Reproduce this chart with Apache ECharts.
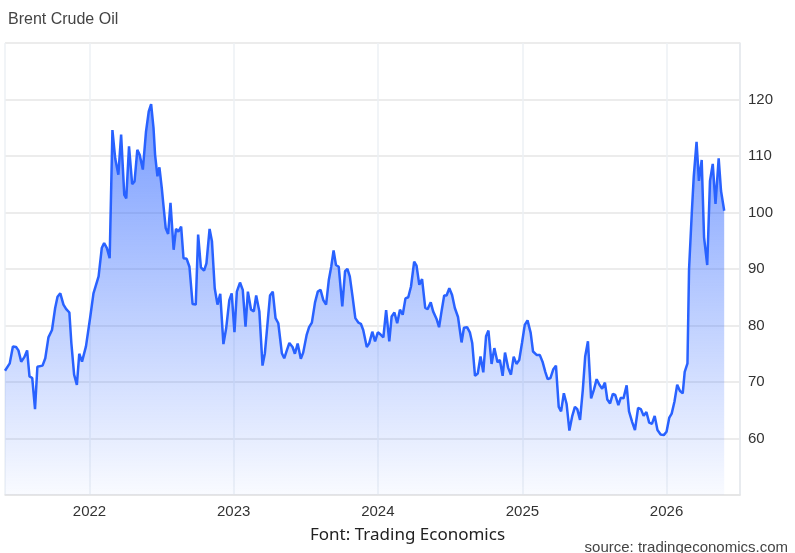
<!DOCTYPE html>
<html>
<head>
<meta charset="utf-8">
<title>Brent Crude Oil</title>
<script src="https://cdn.jsdelivr.net/npm/echarts@6/dist/echarts.min.js"></script>
<style>
  html, body { margin: 0; padding: 0; background: #fff; }
  #main { width: 795px; height: 553px; }
</style>
</head>
<body>
<div id="main"></div>
<script>
// weekly-ish readings
const dates = [
  '2021-06-01','2021-06-13','2021-06-21','2021-06-29','2021-07-05','2021-07-12','2021-07-20','2021-07-27',
  '2021-08-02','2021-08-09','2021-08-16','2021-08-22','2021-09-04','2021-09-11','2021-09-19','2021-09-28',
  '2021-10-06','2021-10-12','2021-10-19','2021-10-27','2021-11-03','2021-11-11','2021-11-16','2021-11-23',
  '2021-11-30','2021-12-06','2021-12-13','2021-12-23','2022-01-03','2022-01-11','2022-01-24','2022-02-01',
  '2022-02-07','2022-02-14','2022-02-21','2022-02-28','2022-03-07','2022-03-15','2022-03-22','2022-03-30',
  '2022-04-04','2022-04-11','2022-04-19','2022-04-25','2022-05-02','2022-05-08','2022-05-16','2022-05-24',
  '2022-05-31','2022-06-06','2022-06-12','2022-06-16','2022-06-22','2022-06-27','2022-07-03','2022-07-07',
  '2022-07-13','2022-07-19','2022-07-25','2022-08-02','2022-08-08','2022-08-14','2022-08-21','2022-08-27',
  '2022-09-04','2022-09-11','2022-09-19','2022-09-27','2022-10-03','2022-10-10','2022-10-18','2022-10-24',
  '2022-11-01','2022-11-07','2022-11-14','2022-11-21','2022-11-28','2022-12-06','2022-12-13','2022-12-21',
  '2022-12-27','2023-01-03','2023-01-09','2023-01-17','2023-01-24','2023-01-31','2023-02-06','2023-02-14',
  '2023-02-21','2023-02-27','2023-03-07','2023-03-15','2023-03-21','2023-04-03','2023-04-10','2023-04-17',
  '2023-04-24','2023-05-03','2023-05-09','2023-05-16','2023-05-22','2023-05-30','2023-06-05','2023-06-12',
  '2023-06-20','2023-06-26','2023-07-05','2023-07-11','2023-07-18','2023-07-26','2023-08-02','2023-08-09',
  '2023-08-16','2023-08-23','2023-08-30','2023-09-05','2023-09-11','2023-09-17','2023-09-24','2023-10-03',
  '2023-10-10','2023-10-16','2023-10-22','2023-10-29','2023-11-05','2023-11-13','2023-11-19','2023-11-25',
  '2023-12-04','2023-12-10','2023-12-18','2023-12-25','2024-01-01','2024-01-08','2024-01-15','2024-01-22',
  '2024-01-30','2024-02-05','2024-02-12','2024-02-19','2024-02-26','2024-03-04','2024-03-11','2024-03-18',
  '2024-03-25','2024-04-02','2024-04-08','2024-04-15','2024-04-22','2024-04-30','2024-05-06','2024-05-14',
  '2024-05-20','2024-05-29','2024-06-04','2024-06-11','2024-06-17','2024-06-23','2024-06-30','2024-07-07',
  '2024-07-14','2024-07-22','2024-07-31','2024-08-06','2024-08-14','2024-08-21','2024-08-27','2024-09-03',
  '2024-09-10','2024-09-17','2024-09-24','2024-10-01','2024-10-07','2024-10-15','2024-10-22','2024-10-30',
  '2024-11-05','2024-11-12','2024-11-18','2024-11-26','2024-12-03','2024-12-10','2024-12-17','2024-12-24',
  '2024-12-31','2025-01-07','2025-01-14','2025-01-22','2025-01-28','2025-02-06','2025-02-14','2025-02-21',
  '2025-02-28','2025-03-06','2025-03-13','2025-03-20','2025-03-27','2025-04-03','2025-04-09','2025-04-16',
  '2025-04-23','2025-04-30','2025-05-07','2025-05-14','2025-05-20','2025-05-27','2025-06-03','2025-06-09',
  '2025-06-16','2025-06-24','2025-07-01','2025-07-08','2025-07-15','2025-07-22','2025-07-29','2025-08-04',
  '2025-08-11','2025-08-18','2025-08-24','2025-09-01','2025-09-07','2025-09-14','2025-09-22','2025-09-28',
  '2025-10-06','2025-10-13','2025-10-21','2025-10-28','2025-11-04','2025-11-11','2025-11-18','2025-11-25',
  '2025-12-02','2025-12-09','2025-12-17','2025-12-25','2026-01-01','2026-01-08','2026-01-14','2026-01-21',
  '2026-01-28','2026-02-04','2026-02-11','2026-02-16','2026-02-23','2026-02-27','2026-03-06','2026-03-11',
  '2026-03-18','2026-03-24','2026-03-31','2026-04-06','2026-04-14','2026-04-21','2026-04-28','2026-05-05',
  '2026-05-13','2026-05-19','2026-05-27'
]
const prices = [
  72.0, 73.3, 76.3, 76.2, 75.6, 73.6, 74.4, 75.6,
  71.0, 70.7, 65.2, 72.7, 72.9, 74.2, 77.9, 79.2,
  83.1, 85.1, 85.7, 83.7, 82.9, 82.3, 76.9, 71.3,
  69.5, 75.0, 73.6, 76.3, 81.6, 85.7, 88.7, 93.7,
  94.6, 93.7, 91.9, 114.6, 109.6, 106.7, 113.8, 103.1,
  102.5, 111.7, 105.0, 105.5, 111.1, 110.2, 107.6, 114.3,
  117.9, 119.2, 115.0, 110.2, 106.4, 108.0, 104.3, 101.4,
  97.2, 96.2, 101.7, 93.4, 97.1, 96.6, 97.5, 91.9,
  91.8, 90.4, 83.8, 83.7, 96.1, 90.3, 89.7, 91.0,
  97.1, 94.9, 86.6, 83.7, 85.6, 76.7, 79.5, 84.5,
  85.7, 78.8, 86.0, 87.6, 86.3, 79.8, 86.0, 82.8,
  82.5, 85.3, 82.5, 72.9, 75.1, 85.3, 86.0, 81.3,
  80.4, 75.1, 74.2, 75.7, 76.9, 76.2, 75.0, 76.8,
  74.1, 75.2, 78.4, 79.7, 80.5, 84.1, 86.0, 86.3,
  84.5, 83.7, 88.1, 90.4, 93.3, 90.7, 90.4, 83.4,
  89.6, 90.0, 88.7, 85.1, 81.3, 80.5, 80.3, 79.2,
  76.2, 76.8, 78.9, 77.2, 78.8, 78.4, 77.9, 82.7,
  77.2, 81.6, 82.3, 80.4, 82.8, 81.9, 84.8, 85.0,
  86.9, 91.3, 90.6, 87.2, 88.2, 83.1, 82.9, 84.1,
  82.5, 81.1, 79.7, 82.8, 85.3, 85.3, 86.6, 85.4,
  83.1, 81.5, 77.0, 79.6, 79.7, 78.8, 76.9, 71.1,
  71.5, 74.5, 71.7, 78.1, 79.1, 73.2, 76.0, 73.5,
  73.9, 71.1, 75.2, 72.5, 71.3, 74.5, 73.2, 73.9,
  76.9, 80.1, 80.9, 78.7, 75.4, 74.8, 74.8, 73.6,
  71.8, 70.5, 70.7, 72.2, 72.9, 65.6, 64.8, 68.0,
  66.1, 61.4, 63.9, 65.6, 65.2, 63.3, 68.6, 74.5,
  77.2, 67.1, 68.6, 70.5, 69.5, 68.8, 69.9, 66.9,
  66.2, 67.9, 67.7, 65.9, 67.2, 67.1, 69.4, 64.8,
  62.9, 61.5, 65.4, 65.2, 64.0, 64.7, 62.8, 62.6,
  64.0, 61.5, 60.7, 60.6, 61.2, 63.7, 64.4, 66.5,
  69.5, 68.4, 68.0, 71.8, 73.3, 90.0, 100.0, 106.5,
  112.5, 105.6, 109.3, 95.6, 90.7, 105.6, 108.6, 101.5,
  109.6, 103.8, 100.3
]
const yTicks = [60, 70, 80, 90, 100, 110, 120]

const chart = echarts.init(document.getElementById('main'))
const option = {
  animation: false,
  title: [
    {
      text: 'Brent Crude Oil',
      left: 3, top: 7,
      textStyle: { fontFamily: 'Liberation Sans, Arial', fontSize: 16, fontWeight: 'normal', color: '#444' }
    },
    {
      text: 'Font: Trading Economics',
      left: 305, top: 522,
      textStyle: { fontFamily: 'Noto Sans', fontSize: 17, fontWeight: 'normal', color: '#222' }
    },
    {
      text: 'source: tradingeconomics.com',
      right: 2, top: 535,
      textStyle: { fontFamily: 'Liberation Sans, Arial', fontSize: 15, fontWeight: 'normal', color: '#444' }
    }
  ],
  grid: { left: 5, right: 55, top: 43, bottom: 58 },
  xAxis: {
    type: 'time',
    min: '2021-06-01',
    max: '2026-07-06',
    minInterval: 365 * 86400000,
    splitNumber: 5,
    axisLine: { show: true, lineStyle: { color: '#e3e3e3', width: 1.5 } },
    axisTick: { show: false },
    axisLabel: {
      margin: 9,
      fontFamily: 'Liberation Sans, Arial', fontSize: 15, color: '#333',
      formatter: v => String(new Date(v).getFullYear())
    },
    splitLine: { show: true, lineStyle: { color: '#edf1f5', width: 1.5 } }
  },
  yAxis: {
    type: 'value',
    position: 'right',
    min: 50, max: 130, interval: 10,
    axisLine: { show: true, lineStyle: { color: '#e6e9ec', width: 1.5 } },
    axisTick: { show: false },
    axisLabel: {
      margin: 8,
      fontFamily: 'Liberation Sans, Arial', fontSize: 15, color: '#333',
      formatter: v => yTicks.includes(v) ? String(v) : ''
    },
    splitLine: { show: true, lineStyle: { color: '#e6e6e6', width: 1.5 } }
  },
  series: [
    {
      type: 'line',
      data: dates.map((d, i) => [d, prices[i]]),
      showSymbol: false,
      smooth: false,
      lineStyle: { color: '#2962ff', width: 2.5 },
      areaStyle: {
        color: new echarts.graphic.LinearGradient(0, 0, 0, 1, [
          { offset: 0, color: 'rgba(41,98,255,0.9)' },
          { offset: 1, color: 'rgba(41,98,255,0.04)' }
        ])
      }
    }
  ]
}
chart.setOption(option)
</script>
</body>
</html>
